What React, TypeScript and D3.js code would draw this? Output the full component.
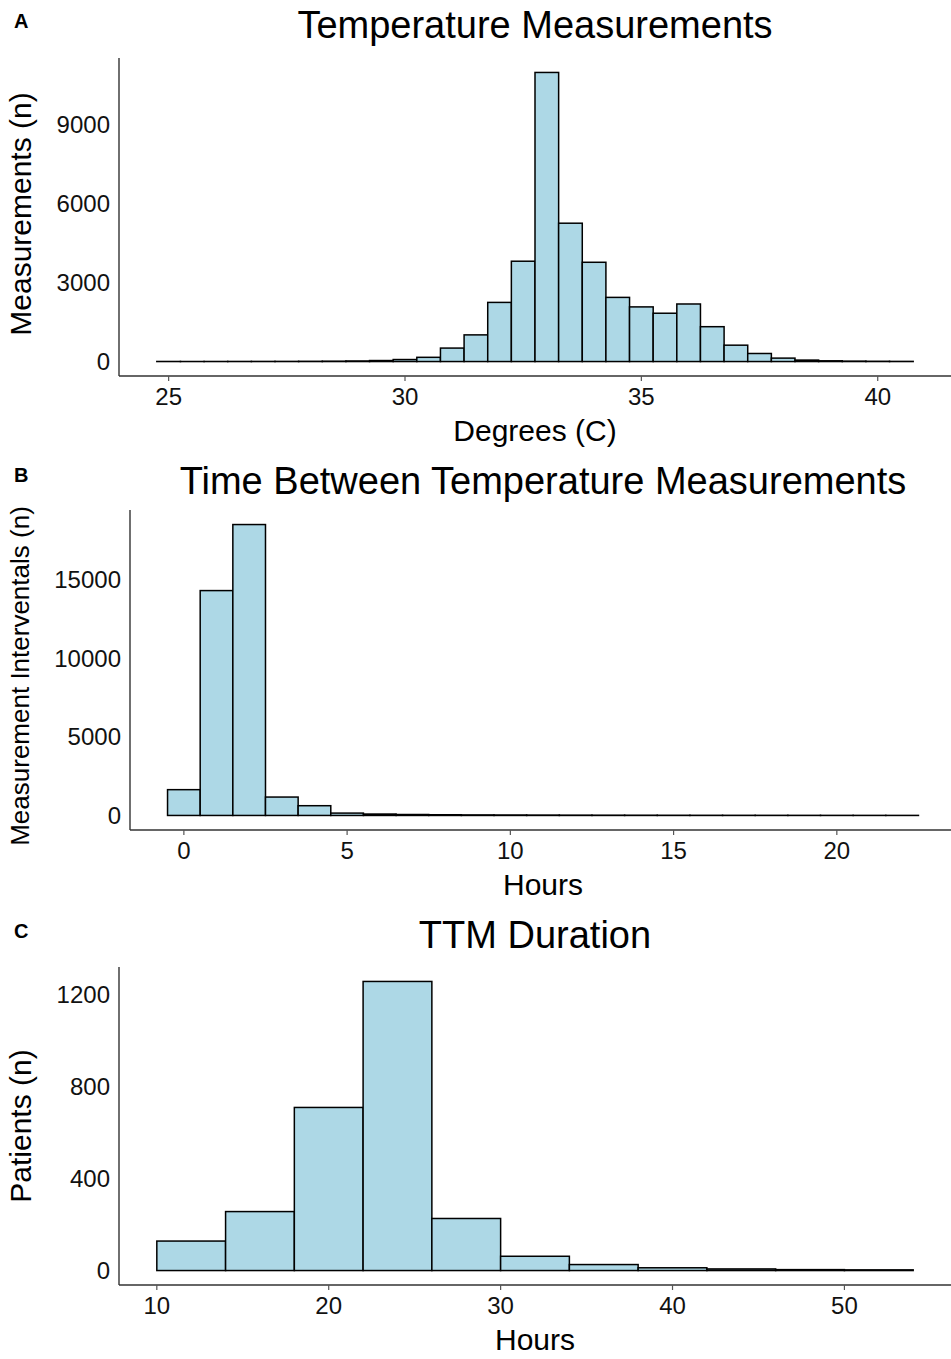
import { useRef, useEffect } from 'react';
import * as d3 from 'd3';

// Panel A: temperature histogram, bin width 0.5 C (bin centres)
const tempBins = [25, 25.5, 26, 26.5, 27, 27.5, 28, 28.5, 29, 29.5, 30, 30.5, 31, 31.5, 32, 32.5,
  33, 33.5, 34, 34.5, 35, 35.5, 36, 36.5, 37, 37.5, 38, 38.5, 39, 39.5, 40, 40.5];
const tempCounts = [3, 2, 3, 4, 5, 6, 9, 14, 22, 38, 76, 160, 510, 1010, 2240, 3800,
  10950, 5240, 3760, 2430, 2070, 1830, 2180, 1320, 620, 305, 130, 55, 28, 16, 10, 6];
const tempTicksX = [25, 30, 35, 40];
const tempTicksY = [0, 3000, 6000, 9000];

// Panel B: hours between measurements, bin width 1 h
const gapBins = [0, 1, 2, 3, 4, 5, 6, 7, 8, 9, 10, 11, 12, 13, 14, 15, 16, 17, 18, 19, 20, 21, 22];
const gapCounts = [1640, 14300, 18500, 1170, 620, 150, 90, 60, 45, 35, 30, 25, 20, 17, 15, 12, 10, 9, 8, 7, 6, 5, 4];
const gapTicksX = [0, 5, 10, 15, 20];
const gapTicksY = [0, 5000, 10000, 15000];

// Panel C: TTM duration, bin width 4 h
const ttmBins = [12, 16, 20, 24, 28, 32, 36, 40, 44, 48, 52];
const ttmCounts = [128, 256, 708, 1255, 226, 62, 26, 12, 7, 4, 3];
const ttmTicksX = [10, 20, 30, 40, 50];
const ttmTicksY = [0, 400, 800, 1200];

const W = 951;
const H = 1359;
const FONT = "'Liberation Sans', Arial, Helvetica, sans-serif";

const panels = [
  {
    letter: 'A', letterY: 28, title: 'Temperature Measurements', titleY: 38,
    xTitle: 'Degrees (C)', yTitle: 'Measurements (n)', yTitleSize: 30, yTitleX: 31, yTitleShift: -3,
    bins: tempBins, counts: tempCounts, binWidth: 0.5, ticksX: tempTicksX, ticksY: tempTicksY,
    left: 119, right: 951, top: 58, bottom: 376,
  },
  {
    letter: 'B', letterY: 482, title: 'Time Between Temperature Measurements', titleY: 494,
    xTitle: 'Hours', yTitle: 'Measurement Interventals (n)', yTitleSize: 26, yTitleX: 29, yTitleShift: 6,
    bins: gapBins, counts: gapCounts, binWidth: 1, ticksX: gapTicksX, ticksY: gapTicksY,
    left: 130, right: 956, top: 510, bottom: 830,
  },
  {
    letter: 'C', letterY: 938, title: 'TTM Duration', titleY: 948,
    xTitle: 'Hours', yTitle: 'Patients (n)', yTitleSize: 30, yTitleX: 31, yTitleShift: 0,
    bins: ttmBins, counts: ttmCounts, binWidth: 4, ticksX: ttmTicksX, ticksY: ttmTicksY,
    left: 119, right: 951, top: 967, bottom: 1285,
  },
];

function expand([a, b]: number[]) {
  const pad = (b - a) * 0.05;
  return [a - pad, b + pad];
}

function drawPanel(svg: any, p: any) {
  const g = svg.append('g');
  const n = p.bins.length;
  const x = d3.scaleLinear()
    .domain(expand([p.bins[0] - p.binWidth / 2, p.bins[n - 1] + p.binWidth / 2]))
    .range([p.left, p.right]);
  const y = d3.scaleLinear()
    .domain(expand([0, d3.max(p.counts) as number]))
    .range([p.bottom, p.top]);

  const data = p.bins.map((b: number, i: number) => ({ x0: b - p.binWidth / 2, x1: b + p.binWidth / 2, v: p.counts[i] }));

  g.selectAll('rect.bar')
    .data(data)
    .join('rect')
    .attr('class', 'bar')
    .attr('x', (d: any) => x(d.x0))
    .attr('width', (d: any) => x(d.x1) - x(d.x0))
    .attr('y', (d: any) => y(d.v))
    .attr('height', (d: any) => y(0) - y(d.v))
    .attr('fill', '#ADD8E6')
    .attr('stroke', '#000')
    .attr('stroke-width', 1.5);

  // axis lines
  g.append('line')
    .attr('x1', p.left).attr('x2', W)
    .attr('y1', p.bottom).attr('y2', p.bottom)
    .attr('stroke', '#333').attr('stroke-width', 1.4);
  g.append('line')
    .attr('x1', p.left).attr('x2', p.left)
    .attr('y1', p.top).attr('y2', p.bottom)
    .attr('stroke', '#333').attr('stroke-width', 1.4);

  // x ticks
  g.selectAll('line.xt')
    .data(p.ticksX)
    .join('line')
    .attr('class', 'xt')
    .attr('x1', (d: number) => x(d)).attr('x2', (d: number) => x(d))
    .attr('y1', p.bottom).attr('y2', p.bottom + 5)
    .attr('stroke', '#555').attr('stroke-width', 1.2);
  g.selectAll('text.xl')
    .data(p.ticksX)
    .join('text')
    .attr('class', 'xl')
    .attr('x', (d: number) => x(d))
    .attr('y', p.bottom + 29)
    .attr('text-anchor', 'middle')
    .attr('font-size', 24)
    .attr('fill', '#111')
    .text((d: number) => d);

  // y labels
  g.selectAll('text.yl')
    .data(p.ticksY)
    .join('text')
    .attr('class', 'yl')
    .attr('x', p.left - 9)
    .attr('y', (d: number) => y(d))
    .attr('dy', '0.36em')
    .attr('text-anchor', 'end')
    .attr('font-size', 24)
    .attr('fill', '#111')
    .text((d: number) => d);

  const cx = (p.left + p.right) / 2;
  g.append('text')
    .attr('x', cx).attr('y', p.titleY)
    .attr('text-anchor', 'middle')
    .attr('font-size', 38)
    .text(p.title);
  g.append('text')
    .attr('x', cx).attr('y', p.bottom + 65)
    .attr('text-anchor', 'middle')
    .attr('font-size', 30)
    .text(p.xTitle);
  g.append('text')
    .attr('transform', `translate(${p.yTitleX},${(p.top + p.bottom) / 2 + p.yTitleShift}) rotate(-90)`)
    .attr('text-anchor', 'middle')
    .attr('font-size', p.yTitleSize)
    .text(p.yTitle);
  g.append('text')
    .attr('x', 14).attr('y', p.letterY)
    .attr('font-size', 20)
    .attr('font-weight', 'bold')
    .text(p.letter);
}

export default function App() {
  const svgRef = useRef<SVGSVGElement>(null);

  useEffect(() => {
    const svg = d3.select(svgRef.current);
    svg.selectAll('*').remove();
    svg.append('rect').attr('width', W).attr('height', H).attr('fill', '#fff');
    panels.forEach((p) => drawPanel(svg, p));
  }, []);

  return (
    <svg
      ref={svgRef}
      width={W}
      height={H}
      style={{ position: 'absolute', left: 0, top: 0, display: 'block', fontFamily: FONT }}
    />
  );
}
